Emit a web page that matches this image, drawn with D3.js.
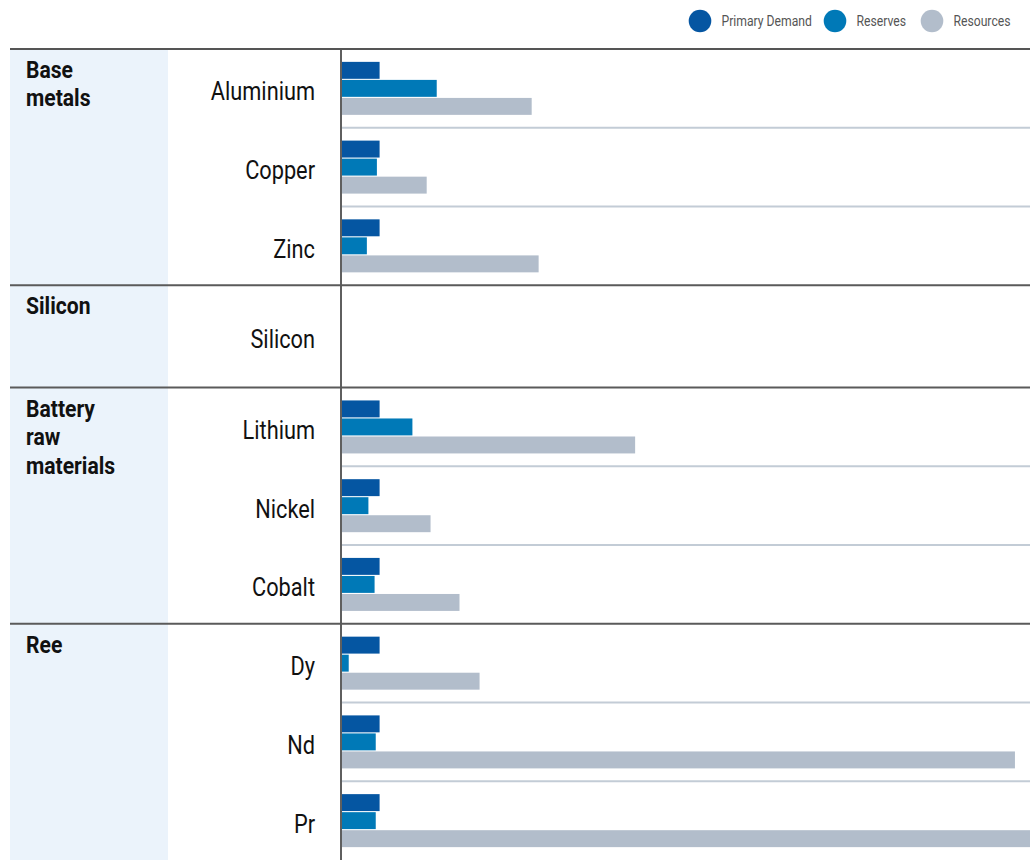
<!DOCTYPE html>
<html>
<head>
<meta charset="utf-8">
<script src="https://cdn.jsdelivr.net/npm/d3@7"></script>
<style>
  html, body { margin: 0; padding: 0; background: #ffffff; }
  svg { display: block; }
</style>
</head>
<body>
<svg id="chart" width="1030" height="860"></svg>
<script>
// ---------- data ----------
const groups = ["Base metals", "Silicon", "Battery raw materials", "Ree"];
const groupLabelLines = [["Base", "metals"], ["Silicon"], ["Battery", "raw", "materials"], ["Ree"]];
const categories = ["Aluminium", "Copper", "Zinc", "Silicon", "Lithium", "Nickel", "Cobalt", "Dy", "Nd", "Pr"];
const categoryGroup = ["Base metals", "Base metals", "Base metals", "Silicon",
  "Battery raw materials", "Battery raw materials", "Battery raw materials", "Ree", "Ree", "Ree"];
const seriesNames = ["Primary Demand", "Reserves", "Resources"];
const primaryDemand = [100, 100, 100, null, 100, 100, 100, 100, 100, 100];
const reserves      = [248,  93,  67, null, 185,  71,  87,  20,  90,  90];
const resources     = [494, 222, 512, null, 762, 232, 307, 359, 1746, 1800];

(function () {
// ---------- styles ----------
const colors = ["#0556a2", "#0079b7", "#b2bdcb"];
const FONT = "Roboto, 'Liberation Sans', sans-serif";

const svg = d3.select("#chart");
const W = 1030;
const plotTop = 49, plotBottom = 860;
const axisX = 341;
const panelX = 10, panelW = 158;

// row units: empty Silicon row is taller
const rowUnits = categories.map((c, i) => primaryDemand[i] == null ? 1.3 : 1);
const cum = [0];
rowUnits.forEach(u => cum.push(cum[cum.length - 1] + u));
const yUnit = d3.scaleLinear().domain([0, cum[cum.length - 1]]).range([plotTop, plotBottom]);
const rowTop = i => yUnit(cum[i]);
const rowBottom = i => yUnit(cum[i + 1]);
const rowCenter = i => (rowTop(i) + rowBottom(i)) / 2;

const x = d3.scaleLinear().domain([0, 1785]).range([axisX, W]);
const sub = d3.scaleBand().domain(seriesNames).range([-26.5, 26.5]).paddingInner(0.06);

const seriesValues = [primaryDemand, reserves, resources];

// left panel
svg.append("rect").attr("x", panelX).attr("y", plotTop).attr("width", panelW).attr("height", plotBottom - plotTop)
  .attr("fill", "#ebf3fb");

// row separators (within groups)
categories.forEach((c, i) => {
  if (i < categories.length - 1 && categoryGroup[i] === categoryGroup[i + 1]) {
    svg.append("line").attr("x1", axisX).attr("x2", W)
      .attr("y1", rowBottom(i)).attr("y2", rowBottom(i))
      .attr("stroke", "#c3ccd6").attr("stroke-width", 2);
  }
});

// bars
const barG = svg.append("g");
seriesNames.forEach((s, si) => {
  barG.selectAll(null)
    .data(categories.map((c, i) => ({ c, i, v: seriesValues[si][i] })).filter(d => d.v != null))
    .enter().append("rect")
    .attr("x", x(0))
    .attr("y", d => rowCenter(d.i) + sub(s))
    .attr("width", d => x(d.v) - x(0))
    .attr("height", sub.bandwidth())
    .attr("fill", colors[si]);
});

// axis line
svg.append("line").attr("x1", axisX).attr("x2", axisX).attr("y1", plotTop).attr("y2", plotBottom)
  .attr("stroke", "#5f5f5f").attr("stroke-width", 2);

// group separators
const groupStart = groups.map(g => categoryGroup.indexOf(g));
groups.forEach((g, gi) => {
  if (gi > 0) {
    const yy = rowTop(groupStart[gi]);
    svg.append("line").attr("x1", panelX).attr("x2", W).attr("y1", yy).attr("y2", yy)
      .attr("stroke", "#5a5a5a").attr("stroke-width", 2);
  }
});
// top rule
svg.append("line").attr("x1", panelX).attr("x2", W).attr("y1", plotTop).attr("y2", plotTop)
  .attr("stroke", "#555").attr("stroke-width", 2);

// condensed text helper
function condText(parent, tx, ty, sx) {
  return parent.append("g").attr("transform", `translate(${tx},${ty}) scale(${sx},1)`).append("text");
}

// group labels
groups.forEach((g, gi) => {
  const t = condText(svg, 26, rowTop(groupStart[gi]) + 29, 0.88)
    .attr("x", 0).attr("y", 0)
    .attr("font-family", FONT).attr("font-weight", "bold").attr("font-size", 24).attr("fill", "#111");
  groupLabelLines[gi].forEach((ln, li) => {
    t.append("tspan").attr("x", 0).attr("dy", li === 0 ? 0 : 28.5).text(ln);
  });
});

// category labels
categories.forEach((c, i) => {
  condText(svg, 315, rowCenter(i) + 12, 0.87)
    .attr("text-anchor", "end")
    .attr("font-family", FONT).attr("font-size", 25).attr("fill", "#111")
    .text(c);
});

// legend
const legendX = [700, 835, 932];
const lg = svg.append("g");
seriesNames.forEach((s, si) => {
  lg.append("circle").attr("cx", legendX[si]).attr("cy", 21).attr("r", 11.3).attr("fill", colors[si]);
  condText(lg, legendX[si] + 21.5, 26, 0.84)
    .attr("font-family", FONT).attr("font-size", 14.5).attr("fill", "#555").text(s);
});
})();
</script>
</body>
</html>
